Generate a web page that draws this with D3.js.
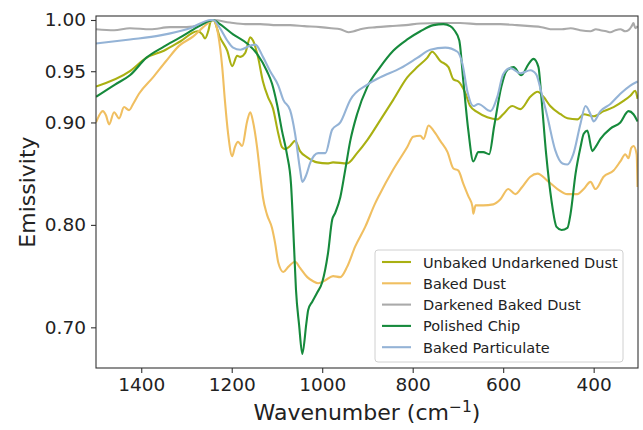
<!DOCTYPE html>
<html>
<head>
<meta charset="utf-8">
<script src="https://cdn.jsdelivr.net/npm/d3@7"></script>
<style>
  body { margin: 0; background: #fff; }
  svg { display: block; font-family: "DejaVu Sans", sans-serif; }
</style>
</head>
<body>
<div id="chart"></div>
<script>
// series names, in legend order
var seriesNames = ["Unbaked Undarkened Dust", "Baked Dust", "Darkened Baked Dust", "Polished Chip", "Baked Particulate"];
var seriesColors = ["#a9b012", "#f0bf61", "#aaaaaa", "#168a3c", "#94b3d6"];

// [wavenumber, emissivity]
var unbakedDust = [[1500,0.935],[1425,0.950],[1389,0.963],[1350,0.970],[1314,0.979],[1276,0.989],[1265,0.986],[1259,0.982],[1252,0.989],[1246,0.999],[1241,1.000],[1226,0.983],[1210,0.970],[1199,0.955],[1188,0.965],[1181,0.964],[1170,0.968],[1159,0.983],[1153,0.980],[1142,0.964],[1131,0.940],[1120,0.925],[1109,0.914],[1097,0.889],[1089,0.876],[1082,0.874],[1071,0.877],[1060,0.882],[1049,0.872],[1033,0.866],[1011,0.861],[989,0.860],[976,0.861],[945,0.860],[923,0.870],[900,0.883],[872,0.902],[843,0.922],[812,0.944],[790,0.954],[768,0.963],[757,0.969],[739,0.960],[721,0.954],[710,0.942],[699,0.940],[683,0.928],[673,0.916],[657,0.910],[635,0.905],[613,0.903],[600,0.908],[580,0.916],[562,0.913],[540,0.925],[524,0.930],[511,0.925],[496,0.916],[473,0.908],[458,0.904],[436,0.903],[422,0.908],[400,0.906],[378,0.911],[356,0.915],[334,0.921],[319,0.926],[308,0.931],[303,0.923]];

var bakedDust = [[1500,0.900],[1485,0.911],[1478,0.907],[1471,0.898],[1460,0.910],[1449,0.904],[1438,0.915],[1427,0.912],[1418,0.918],[1405,0.928],[1374,0.944],[1345,0.960],[1316,0.975],[1285,0.984],[1263,0.993],[1246,0.999],[1241,1.000],[1230,0.986],[1221,0.954],[1215,0.921],[1208,0.889],[1199,0.867],[1193,0.876],[1186,0.881],[1177,0.877],[1166,0.901],[1159,0.910],[1153,0.901],[1144,0.876],[1137,0.849],[1131,0.827],[1122,0.810],[1111,0.797],[1104,0.782],[1097,0.763],[1086,0.754],[1075,0.759],[1060,0.764],[1049,0.758],[1033,0.749],[1020,0.745],[1009,0.743],[993,0.746],[976,0.750],[960,0.749],[945,0.759],[927,0.779],[905,0.798],[883,0.821],[874,0.829],[843,0.854],[812,0.876],[799,0.886],[783,0.887],[776,0.884],[765,0.897],[754,0.892],[739,0.882],[723,0.871],[710,0.855],[699,0.853],[688,0.840],[677,0.828],[668,0.818],[666,0.811],[661,0.819],[644,0.819],[622,0.820],[606,0.825],[589,0.835],[573,0.830],[558,0.837],[540,0.847],[524,0.850],[502,0.843],[480,0.835],[458,0.830],[436,0.830],[422,0.835],[407,0.842],[396,0.835],[378,0.847],[356,0.853],[341,0.862],[330,0.869],[323,0.865],[317,0.875],[312,0.877],[305,0.869],[303,0.837]];

var darkenedDust = [[1500,0.991],[1460,0.990],[1425,0.992],[1380,0.991],[1336,0.993],[1300,0.993],[1270,0.995],[1241,1.000],[1204,0.9975],[1170,0.996],[1137,0.996],[1100,0.995],[1071,0.995],[1040,0.994],[1004,0.993],[980,0.992],[960,0.991],[942,0.988],[930,0.989],[916,0.991],[880,0.993],[850,0.994],[815,0.995],[783,0.9966],[740,0.997],[695,0.997],[650,0.996],[606,0.996],[570,0.995],[540,0.994],[515,0.993],[496,0.991],[470,0.991],[451,0.992],[430,0.990],[407,0.989],[395,0.991],[385,0.990],[372,0.989],[363,0.988],[352,0.990],[341,0.991],[330,0.989],[323,0.990],[316,0.994],[312,0.997],[308,0.992],[303,0.994]];

var polishedChip = [[1500,0.925],[1458,0.937],[1425,0.946],[1389,0.963],[1350,0.974],[1314,0.983],[1276,0.993],[1250,0.999],[1241,1.000],[1226,0.996],[1197,0.986],[1166,0.977],[1144,0.967],[1122,0.950],[1111,0.938],[1100,0.918],[1089,0.892],[1078,0.869],[1069,0.840],[1062,0.776],[1058,0.737],[1051,0.702],[1044,0.674],[1035,0.704],[1031,0.717],[1022,0.725],[1011,0.734],[1000,0.744],[987,0.773],[978,0.805],[971,0.812],[960,0.827],[949,0.854],[938,0.882],[923,0.908],[900,0.935],[872,0.954],[843,0.970],[812,0.981],[783,0.989],[754,0.995],[732,0.996],[717,0.994],[708,0.990],[697,0.980],[688,0.940],[677,0.892],[666,0.862],[655,0.871],[644,0.871],[631,0.869],[620,0.896],[604,0.935],[593,0.950],[577,0.954],[560,0.946],[544,0.957],[533,0.962],[522,0.954],[516,0.927],[505,0.869],[493,0.823],[482,0.798],[471,0.795],[458,0.797],[451,0.811],[440,0.850],[429,0.876],[422,0.889],[414,0.892],[403,0.872],[396,0.876],[385,0.884],[363,0.894],[341,0.900],[323,0.911],[312,0.908],[303,0.901]];

var bakedParticulate = [[1500,0.977],[1425,0.981],[1358,0.985],[1292,0.992],[1246,1.000],[1241,1.000],[1226,0.992],[1210,0.980],[1197,0.973],[1181,0.971],[1159,0.975],[1148,0.976],[1131,0.964],[1115,0.950],[1097,0.936],[1086,0.922],[1071,0.912],[1060,0.889],[1049,0.854],[1044,0.842],[1035,0.849],[1027,0.860],[1009,0.870],[993,0.870],[978,0.893],[960,0.900],[938,0.922],[900,0.937],[872,0.944],[827,0.953],[790,0.963],[761,0.971],[728,0.973],[701,0.969],[690,0.957],[679,0.930],[666,0.916],[655,0.918],[628,0.911],[613,0.925],[600,0.947],[584,0.953],[562,0.948],[540,0.951],[527,0.947],[516,0.930],[502,0.905],[485,0.873],[469,0.860],[458,0.859],[445,0.869],[429,0.899],[418,0.916],[407,0.908],[400,0.901],[385,0.911],[363,0.918],[341,0.928],[319,0.936],[303,0.940]];

var allSeries = [unbakedDust, bakedDust, darkenedDust, polishedChip, bakedParticulate];

var xTicks = [1400, 1200, 1000, 800, 600, 400];
var yTicks = [0.70, 0.80, 0.90, 0.95, 1.00];

var width = 643, height = 430;
var margin = {top: 16, right: 5, bottom: 62, left: 96};

var svg = d3.select("#chart")
  .append("svg")
  .attr("width", width)
  .attr("height", height);

var x = d3.scaleLinear()
  .domain([1500, 302])
  .range([margin.left, width - margin.right]);

var y = d3.scaleLinear()
  .domain([0.6603, 1.0039])
  .range([height - margin.bottom, margin.top]);

svg.append("defs").append("clipPath").attr("id", "plotclip")
  .append("rect")
  .attr("x", margin.left).attr("y", margin.top)
  .attr("width", x.range()[1] - x.range()[0])
  .attr("height", y.range()[0] - y.range()[1]);

var line = d3.line()
  .x(function(d) { return x(d[0]); })
  .y(function(d) { return y(d[1]); })
  .curve(d3.curveMonotoneX);

var lines = svg.append("g").attr("clip-path", "url(#plotclip)");
allSeries.forEach(function(s, i) {
  lines.append("path")
    .datum(s)
    .attr("fill", "none")
    .attr("stroke", seriesColors[i])
    .attr("stroke-width", 2.1)
    .attr("stroke-linejoin", "round")
    .attr("d", line);
});

// axes
var xAxis = svg.append("g")
  .attr("transform", "translate(0," + (height - margin.bottom) + ")")
  .call(d3.axisBottom(x).tickValues(xTicks).tickFormat(d3.format("d")).tickSize(5).tickPadding(5));

var yAxis = svg.append("g")
  .attr("transform", "translate(" + margin.left + ",0)")
  .call(d3.axisLeft(y).tickValues(yTicks).tickFormat(d3.format(".2f")).tickSize(5).tickPadding(5));

[xAxis, yAxis].forEach(function(a) {
  a.select(".domain").remove();
  a.selectAll(".tick line").attr("stroke", "#333").attr("stroke-width", 1.1);
  a.selectAll(".tick text")
    .attr("fill", "#222")
    .style("font-size", "18.5px")
    .style("font-family", "DejaVu Sans");
});

// frame
svg.append("rect")
  .attr("x", x.range()[0]).attr("y", y.range()[1])
  .attr("width", x.range()[1] - x.range()[0])
  .attr("height", y.range()[0] - y.range()[1])
  .attr("fill", "none")
  .attr("stroke", "#333")
  .attr("stroke-width", 1.1);

// axis labels
var xl = svg.append("text")
  .attr("x", (x.range()[0] + x.range()[1]) / 2)
  .attr("y", 420)
  .attr("text-anchor", "middle")
  .attr("fill", "#222")
  .style("font-size", "22px");
xl.append("tspan").text("Wavenumber (cm");
xl.append("tspan").text("\u22121").attr("dy", -8).style("font-size", "15.5px");
xl.append("tspan").text(")").attr("dy", 8);

svg.append("text")
  .attr("transform", "translate(35," + ((y.range()[0] + y.range()[1]) / 2) + ") rotate(-90)")
  .attr("text-anchor", "middle")
  .attr("fill", "#222")
  .style("font-size", "22px")
  .text("Emissivity");

// legend
var legend = svg.append("g").attr("transform", "translate(375,250)");
legend.append("rect")
  .attr("width", 248).attr("height", 112)
  .attr("rx", 3).attr("ry", 3)
  .attr("fill", "#fff").attr("fill-opacity", 0.85)
  .attr("stroke", "#d0d0d0");

seriesNames.forEach(function(n, i) {
  var row = legend.append("g").attr("transform", "translate(0," + (12 + i * 21.3) + ")");
  row.append("line")
    .attr("x1", 7).attr("x2", 36)
    .attr("stroke", seriesColors[i]).attr("stroke-width", 2.1);
  row.append("text")
    .attr("x", 48).attr("y", 5.5)
    .attr("fill", "#222")
    .style("font-size", "14.5px")
    .text(n);
});
</script>
</body>
</html>
